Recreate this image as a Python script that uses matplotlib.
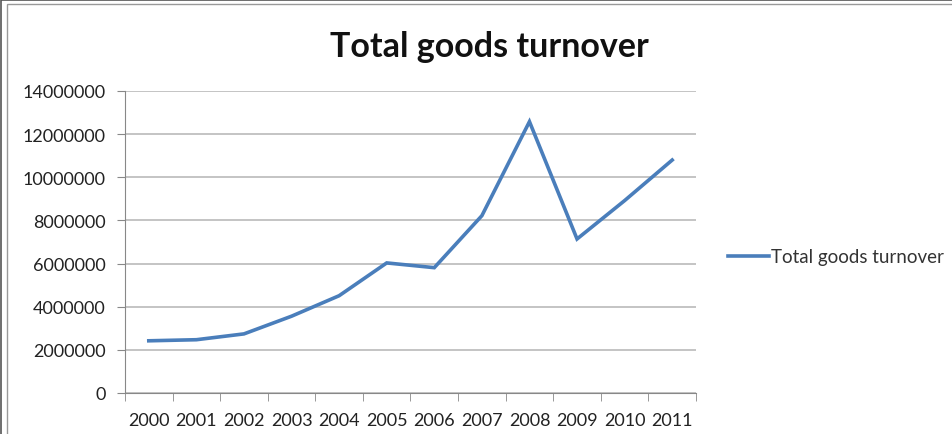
import matplotlib.pyplot as plt
from matplotlib.patches import Rectangle
import numpy as np

plt.rcParams['font.family'] = ['Lato', 'DejaVu Sans']

years = ['2000', '2001', '2002', '2003', '2004', '2005',
         '2006', '2007', '2008', '2009', '2010', '2011']
turnover = [2420000, 2470000, 2740000, 3560000, 4510000, 6030000,
            5810000, 8220000, 12580000, 7140000, 8920000, 10800000]
yticks = [0, 2000000, 4000000, 6000000, 8000000, 10000000, 12000000, 14000000]

fig = plt.figure(figsize=(9.53, 4.35), dpi=100)
ax = fig.add_axes([125/953, 1 - 394/435, (696 - 125)/953, (394 - 92)/435])

x = np.arange(len(years))
ax.plot(x, turnover, color='#4a7ebb', lw=2.6, label='Total goods turnover',
        solid_joinstyle='miter')

ax.set_xlim(-0.5, len(years) - 0.5)
ax.set_ylim(0, 14000000)
ax.set_yticks(yticks)
ax.set_yticklabels([str(v) for v in yticks])
ax.set_xticks(x)
ax.set_xticklabels(years)
ax.set_xticks(np.arange(-0.5, len(years)), minor=True)
ax.tick_params(axis='x', which='major', length=0, pad=14, labelsize=13, labelcolor='#222222')
ax.tick_params(axis='x', which='minor', length=6, color='#888888', direction='out')
ax.tick_params(axis='y', length=6, color='#888888', pad=8, labelsize=13, labelcolor='#222222')
ax.yaxis.grid(True, color='#b4b4b4', lw=1.1)
ax.set_axisbelow(True)
for s in ['top', 'right']:
    ax.spines[s].set_visible(False)
ax.spines['left'].set_color('#888888')
ax.spines['bottom'].set_color('#888888')

fig.text(489/953, 1 - 47/435, 'Total goods turnover', ha='center', va='center',
         fontsize=24.5, fontweight='bold', color='#111111')

fig.legend(loc='center left', bbox_to_anchor=(711/953, 1 - 258/435), frameon=False,
           fontsize=13.5, handlelength=2.2, handletextpad=0.1, labelcolor='#333333')

# chart border
fig.patches.append(Rectangle((1/953, -0.02), 1.0, 1.02 - 1/435, transform=fig.transFigure,
                             fill=False, edgecolor='#555555', lw=1.2))
fig.patches.append(Rectangle((7/953, -0.02), 1.0, 1.02 - 5/435, transform=fig.transFigure,
                             fill=False, edgecolor='#999999', lw=1.0))

fig.savefig('out.png', dpi=100)
